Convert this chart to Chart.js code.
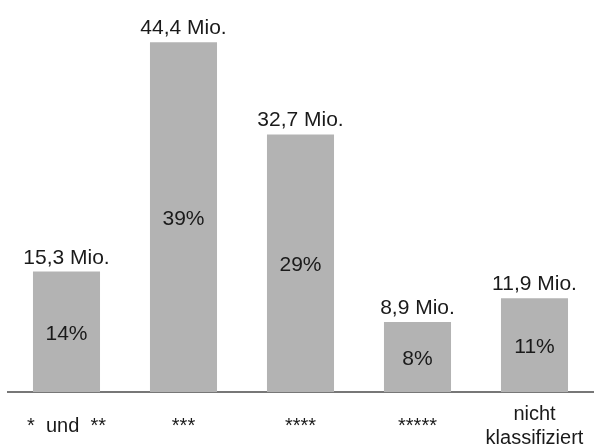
<!DOCTYPE html>
<html>
<head>
<meta charset="utf-8">
<script src="https://cdn.jsdelivr.net/npm/chart.js@4"></script>
<style>
  html, body { margin: 0; padding: 0; background: #ffffff; }
  #wrap { width: 596px; height: 448px; }
</style>
</head>
<body>
<div id="wrap"><canvas id="chart"></canvas></div>
<script>
const categories = ["*  und  **", "***", "****", "*****", ["nicht", "klassifiziert"]];
const millions = [15.3, 44.4, 32.7, 8.9, 11.9];
const valueLabels = ["15,3 Mio.", "44,4 Mio.", "32,7 Mio.", "8,9 Mio.", "11,9 Mio."];
const shareLabels = ["14%", "39%", "29%", "8%", "11%"];

Chart.defaults.font.family = "'Liberation Sans', Arial, sans-serif";
Chart.defaults.color = "#1a1a1a";

// draws the "Mio." labels above and the percentages inside each bar
const barTextPlugin = {
  id: "barText",
  afterDatasetsDraw(chart) {
    const ctx = chart.ctx;
    const meta = chart.getDatasetMeta(0);
    ctx.save();
    ctx.fillStyle = "#1a1a1a";
    ctx.textAlign = "center";
    meta.data.forEach((bar, i) => {
      ctx.font = "21px 'Liberation Sans', Arial, sans-serif";
      ctx.textBaseline = "alphabetic";
      ctx.fillText(valueLabels[i], bar.x, bar.y - 8);
      ctx.textBaseline = "middle";
      ctx.fillText(shareLabels[i], bar.x, (bar.y + bar.base) / 2 + 2);
    });
    ctx.restore();
  },
};

new Chart(document.getElementById("chart"), {
  type: "bar",
  data: {
    labels: categories,
    datasets: [
      {
        data: millions,
        backgroundColor: "#b3b3b3",
        barPercentage: 0.573,
        categoryPercentage: 1,
      },
    ],
  },
  options: {
    responsive: true,
    maintainAspectRatio: false,
    animation: false,
    layout: {
      padding: { top: 14, left: 8, right: 3, bottom: 0 },
    },
    plugins: {
      legend: { display: false },
      tooltip: { enabled: false },
    },
    scales: {
      x: {
        grid: { display: false, drawTicks: false },
        border: { color: "#777777", width: 2 },
        afterFit(scale) {
          scale.height = 56;
          scale.paddingLeft = 0;
          scale.paddingRight = 0;
        },
        ticks: {
          padding: 22,
          crossAlign: "center",
          color: "#1a1a1a",
          font: { size: 20 },
          maxRotation: 0,
          autoSkip: false,
        },
      },
      y: {
        display: false,
        min: 0,
        max: 48,
      },
    },
  },
  plugins: [barTextPlugin],
});
</script>
</body>
</html>
